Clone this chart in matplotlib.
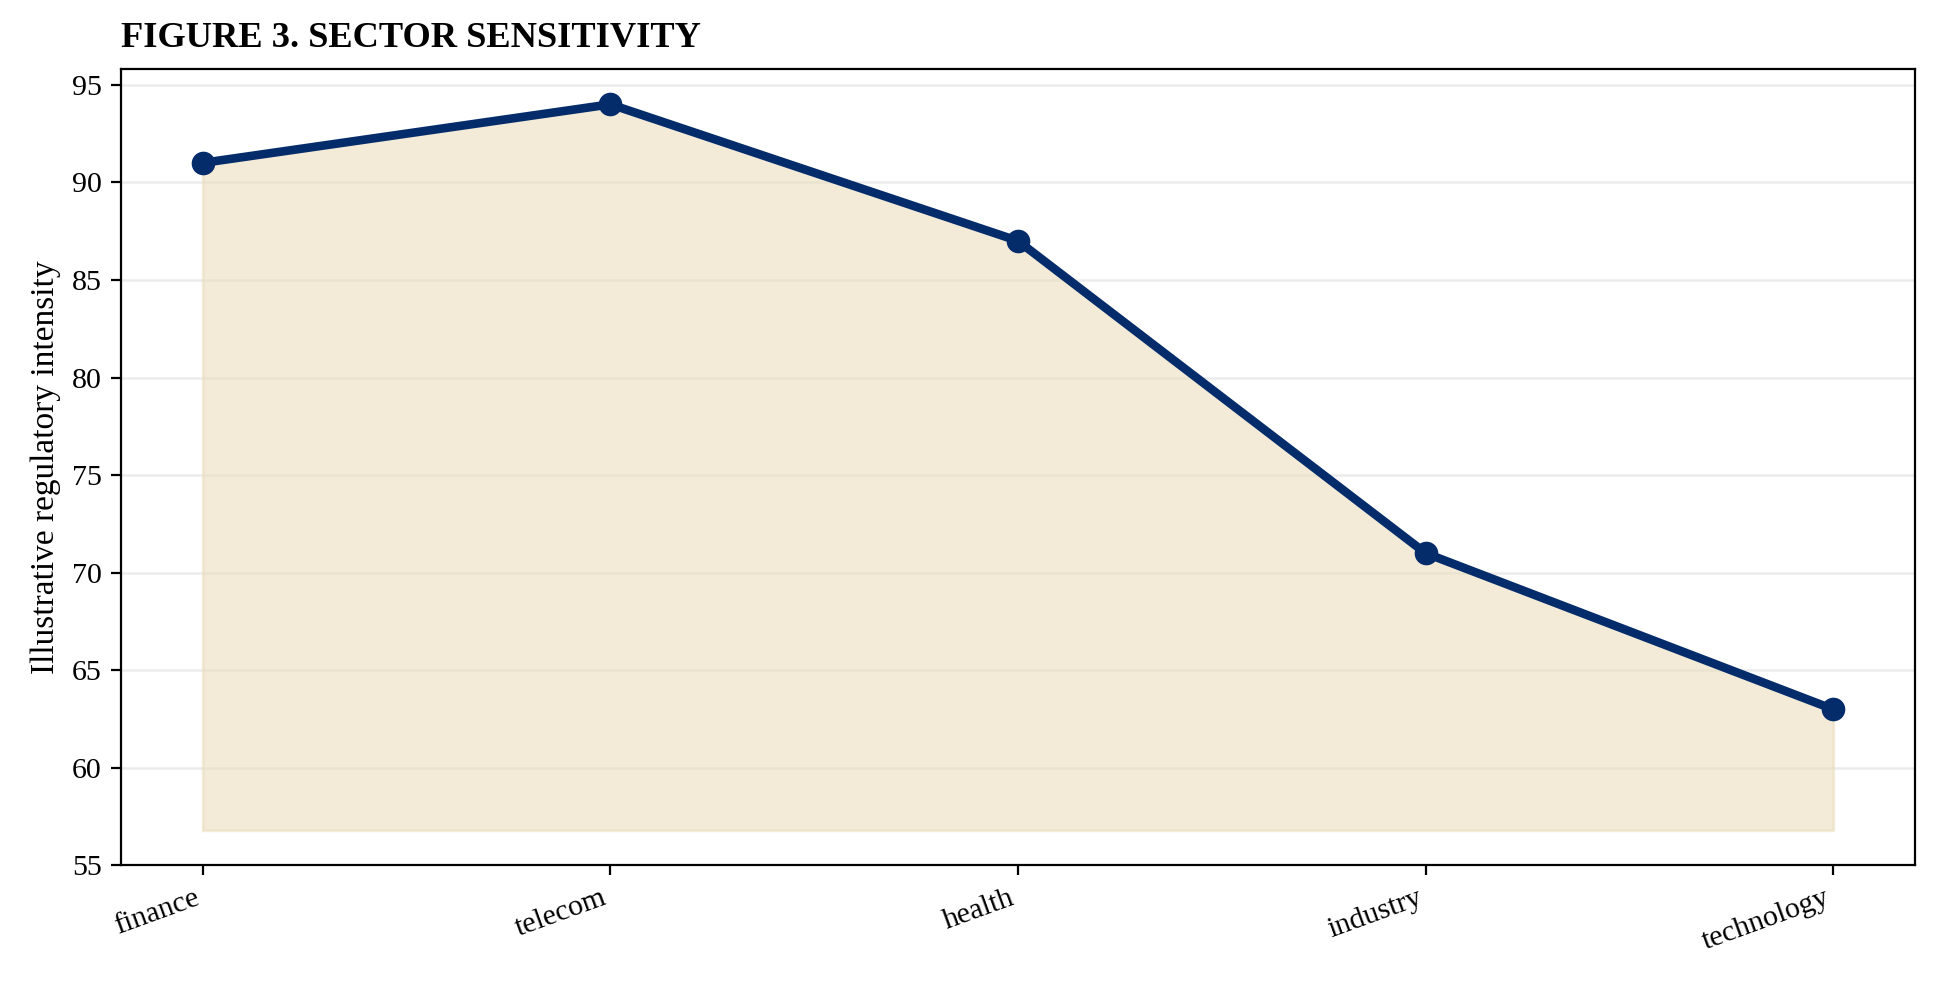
import matplotlib
matplotlib.use("Agg")
import matplotlib.pyplot as plt

plt.rcParams['font.family'] = ['Liberation Serif', 'DejaVu Serif']

# data
sectors = ["finance", "telecom", "health", "industry", "technology"]
intensity = [91, 94, 87, 71, 63]
fill_floor = 56.8

line_color = "#052c6a"
fill_color = "#eadcb8"

fig = plt.figure(figsize=(9.7, 4.915), dpi=200)
ax = fig.add_axes([0.0625, 0.1196, 0.9245, 0.81])

x = list(range(len(sectors)))
ax.fill_between(x, fill_floor, intensity, color=fill_color, alpha=0.55, linewidth=1, zorder=1)
ax.plot(x, intensity, color=line_color, linewidth=3.1, marker='o', markersize=7.5, zorder=3)

ax.set_xlim(-0.2, 4.2)
ax.set_ylim(55, 95.8)
ax.set_xticks(x)
ax.set_xticklabels(sectors, rotation=20, ha='right', fontsize=10.8)
ax.set_yticks(range(55, 96, 5))
ax.tick_params(axis='y', labelsize=10.8)
ax.grid(axis='y', color='#ececec', linewidth=0.9, zorder=0)
ax.set_axisbelow(True)
ax.set_ylabel("Illustrative regulatory intensity", fontsize=12)
ax.set_title("FIGURE 3. SECTOR SENSITIVITY", loc='left', fontweight='bold', fontsize=13.1, pad=8)

fig.savefig("out.png", dpi=200)
